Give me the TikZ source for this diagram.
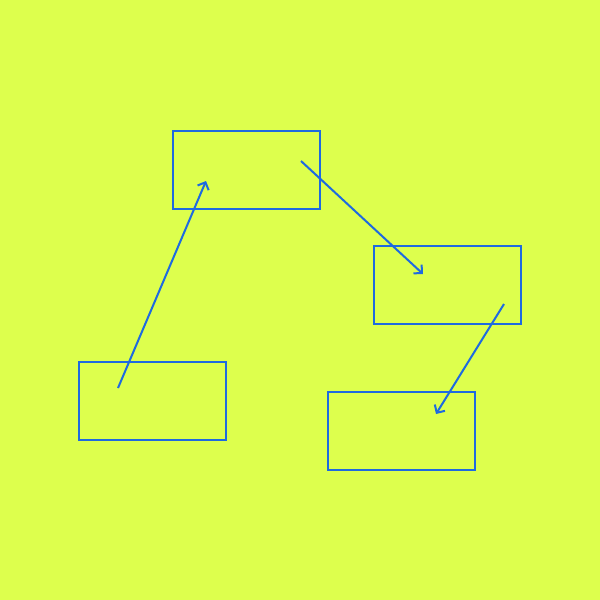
\documentclass[tikz,border=0pt]{standalone}
\usepackage{tikz}
\usetikzlibrary{arrows.meta}
\definecolor{lime}{HTML}{DDFF4D}
\definecolor{edgeblue}{HTML}{1E6AE0}

\begin{document}
\begin{tikzpicture}[x=1pt,y=-1pt,
boxnode/.style={rectangle, draw=edgeblue, line width=2pt, minimum width=147pt, minimum height=78pt, inner sep=0pt},
link/.style={draw=edgeblue, line width=2pt, -{Straight Barb[length=6pt,width=12pt]}}
]
    \fill [lime] (0,0) rectangle (600,600);
    \useasboundingbox (0,0) rectangle (600,600);

    \node [boxnode] (a) at (152.5,401) {};
    \node [boxnode] (b) at (246.5,170) {};
    \node [boxnode] (c) at (447.5,285) {};
    \node [boxnode] (d) at (401.5,431) {};

    \coordinate (a1) at (118,388);
    \coordinate (b1) at (206,181);
    \coordinate (b2) at (301,161);
    \coordinate (c1) at (423,274);
    \coordinate (c2) at (504,304);
    \coordinate (d1) at (436,414);

    \draw [link] (a1) to (b1);
    \draw [link] (b2) to (c1);
    \draw [link] (c2) to (d1);
\end{tikzpicture}
\end{document}
